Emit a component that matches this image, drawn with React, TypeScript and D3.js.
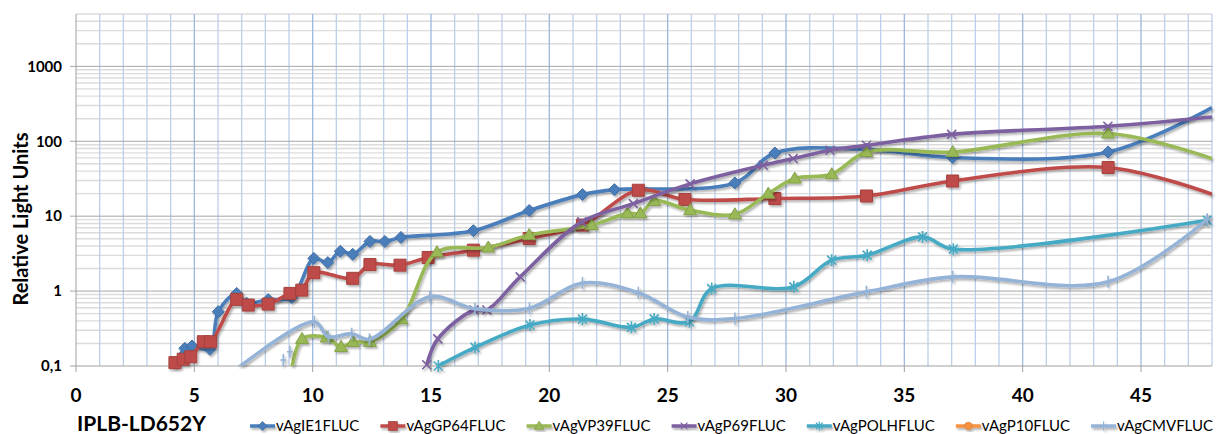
import React, { useEffect, useRef } from "react";
import * as d3 from "d3";

const W = 1216;
const H = 434;

const xTickValues = [0, 5, 10, 15, 20, 25, 30, 35, 40, 45];
const yTickValues = [0.1, 1, 10, 100, 1000];
const yTickLabels = ["0,1", "1", "10", "100", "1000"];
const xAxisTitle = "IPLB-LD652Y";
const yAxisTitle = "Relative Light Units";
const seriesNames = ["vAgIE1FLUC", "vAgGP64FLUC", "vAgVP39FLUC", "vAgP69FLUC", "vAgPOLHFLUC", "vAgP10FLUC", "vAgCMVFLUC"];

const ie1: [number, number][] = [
  [4.2, 0.11], [4.6, 0.172], [4.9, 0.185], [5.66, 0.167], [6.01, 0.53], [6.79, 0.93], [7.21, 0.69],
  [8.12, 0.77], [9.11, 0.82], [10.05, 2.73], [10.64, 2.4], [11.17, 3.4], [11.69, 3.1], [12.42, 4.6],
  [13.05, 4.6], [13.73, 5.2], [16.79, 6.4], [19.15, 11.9], [21.4, 19.4], [22.75, 22.6], [27.84, 27.8],
  [29.53, 69.8], [33.4, 78], [37.04, 60.6], [43.61, 72], [48, 281],
];
const gp64: [number, number][] = [
  [4.18, 0.111], [4.53, 0.123], [4.85, 0.133], [5.38, 0.211], [5.69, 0.211], [6.79, 0.775], [7.28, 0.651],
  [8.12, 0.671], [9.04, 0.932], [9.54, 1.03], [10.05, 1.76], [11.69, 1.48], [12.42, 2.26], [13.69, 2.22],
  [14.88, 2.81], [16.79, 3.52], [19.15, 5.04], [21.4, 7.6], [23.76, 22.2], [25.73, 16.7], [29.53, 17.2],
  [33.4, 18.6], [37.04, 29.5], [43.61, 44.7], [48, 19.6],
];
const vp39: [number, number][] = [
  [9.1, 0.085], [9.55, 0.23], [10.59, 0.24], [11.2, 0.18], [11.7, 0.21], [12.42, 0.21], [13.76, 0.42],
  [15.25, 3.3], [17.42, 3.82], [19.15, 5.6], [21.79, 7.6], [23.3, 10.9], [23.85, 10.9], [24.43, 16],
  [25.95, 12.0], [27.84, 10.6], [29.25, 20.0], [30.37, 31.8], [31.93, 36.3], [33.4, 71.9], [37.04, 71.9],
  [43.61, 127], [48, 58.8],
];
const p69: [number, number][] = [
  [14.82, 0.104], [15.29, 0.23], [16.82, 0.56], [17.36, 0.56], [18.77, 1.55], [21.37, 8.4], [23.55, 14.7],
  [25.95, 27], [29.04, 47.9], [30.3, 58.8], [31.86, 75.9], [33.4, 88.4], [37.0, 123.6], [43.6, 158.5], [48, 211],
];
const polh: [number, number][] = [
  [15.31, 0.1], [16.86, 0.177], [19.18, 0.352], [21.4, 0.423], [23.47, 0.328], [24.43, 0.425], [25.92, 0.39],
  [26.86, 1.08], [30.33, 1.14], [31.93, 2.59], [33.43, 3.02], [35.77, 5.29], [37.07, 3.63], [47.8, 8.83],
];
const p10: [number, number][] = [];
const cmv: [number, number][] = [
  [6.05, 0.06], [10.07, 0.39], [10.66, 0.246], [11.65, 0.27], [12.4, 0.227], [14.95, 0.84], [16.86, 0.58],
  [19.16, 0.59], [21.4, 1.28], [23.76, 0.95], [25.85, 0.45], [27.84, 0.43], [33.4, 0.98], [37.04, 1.55],
  [43.61, 1.33], [47.8, 9.1],
];
const cmvLoose: [number, number][] = [[8.76, 0.12], [9.04, 0.155]];

const seriesData = [ie1, gp64, vp39, p69, polh, p10, cmv];
const lineColors = ["#4A7EBB", "#BE4B48", "#98B954", "#7D60A0", "#46AAC5", "#F69240", "#95B3D7"];
const markerKinds = ["diamond", "square", "triangle", "x", "asterisk", "circle", "plus"];

function markerPath(kind: string): string {
  switch (kind) {
    case "diamond": return "M0,-6L6,0L0,6L-6,0Z";
    case "square": return "M-6,-6h12v12h-12Z";
    case "triangle": return "M0,-6.5L6.5,4.5L-6.5,4.5Z";
    case "x": return "M-4.5,-4.5L4.5,4.5M-4.5,4.5L4.5,-4.5";
    case "asterisk": return "M-4.5,-4.5L4.5,4.5M-4.5,4.5L4.5,-4.5M0,-6L0,6";
    case "plus": return "M0,-6L0,6M-3,0L3,0";
    case "circle": return "M-5,0a5,5 0 1,0 10,0a5,5 0 1,0 -10,0Z";
    default: return "";
  }
}
const filledKinds = new Set(["diamond", "square", "triangle", "circle"]);

export default function App() {
  const ref = useRef<SVGSVGElement>(null);
  useEffect(() => {
    const svg = d3.select(ref.current!);
    svg.selectAll("*").remove();
    const left = 76, right = 1212, top = 14, bottom = 366;
    const x = d3.scaleLinear().domain([0, 48]).range([left, right]);
    const y = d3.scaleLog().domain([0.1, 5000]).range([bottom, top]);
    const font = "Lato, 'Open Sans', sans-serif";

    const defs = svg.append("defs");
    defs.append("clipPath").attr("id", "plotclip").append("rect")
      .attr("x", left).attr("y", top).attr("width", right - left).attr("height", bottom - top);
    const f = defs.append("filter").attr("id", "shadow").attr("x", "-10%").attr("y", "-10%").attr("width", "120%").attr("height", "130%");
    f.append("feDropShadow").attr("dx", 1.5).attr("dy", 2).attr("stdDeviation", 1.3)
      .attr("flood-color", "#000").attr("flood-opacity", 0.3);

    // grid
    const minorVals: number[] = [];
    const majorVals: number[] = [];
    [0.1, 1, 10, 100, 1000].forEach((d) => {
      for (let k = 1; k <= 9; k++) {
        const v = +(k * d).toPrecision(3);
        if (v > 5000) break;
        if (k === 1) majorVals.push(v); else minorVals.push(v);
      }
    });
    const g = svg.append("g");
    g.selectAll(".hmin").data(minorVals).join("line")
      .attr("x1", left).attr("x2", right).attr("y1", (d) => y(d)).attr("y2", (d) => y(d))
      .attr("stroke", "#DCDCDC").attr("stroke-width", 1.4);
    g.selectAll(".v").data(d3.range(1, 49)).join("line")
      .attr("x1", (d) => x(d)).attr("x2", (d) => x(d)).attr("y1", top).attr("y2", bottom)
      .attr("stroke", (d) => (d % 5 === 0 ? "#9DB8DC" : "#BCD0EA")).attr("stroke-width", 1.3);
    g.selectAll(".hmaj").data(majorVals.filter((v) => v > 0.1)).join("line")
      .attr("x1", left - 6).attr("x2", right).attr("y1", (d) => y(d)).attr("y2", (d) => y(d))
      .attr("stroke", "#A6A6A6").attr("stroke-width", 1);

    // axes
    g.append("line").attr("x1", left).attr("x2", left).attr("y1", top).attr("y2", bottom).attr("stroke", "#A0A0A0");
    g.append("line").attr("x1", left - 6).attr("x2", right).attr("y1", bottom).attr("y2", bottom).attr("stroke", "#A0A0A0");
    g.selectAll(".xt").data(xTickValues).join("line")
      .attr("x1", (d) => x(d)).attr("x2", (d) => x(d)).attr("y1", bottom).attr("y2", bottom + 6)
      .attr("stroke", "#A0A0A0");

    g.selectAll(".yl").data(yTickValues).join("text")
      .attr("x", 62).attr("y", (d) => y(d)).attr("dy", "0.35em").attr("text-anchor", "end")
      .attr("font-family", font).attr("font-weight", "bold").attr("font-size", 15).attr("fill", "#000")
      .text((_d, i) => yTickLabels[i]);
    g.selectAll(".xl").data(xTickValues).join("text")
      .attr("x", (d) => x(d)).attr("y", 402).attr("text-anchor", "middle")
      .attr("font-family", font).attr("font-weight", "bold").attr("font-size", 19).attr("fill", "#000")
      .text((d) => String(d));
    svg.append("text").attr("transform", "translate(28,219) rotate(-90)").attr("text-anchor", "middle")
      .attr("font-family", font).attr("font-weight", "bold").attr("font-size", 20).text(yAxisTitle);
    svg.append("text").attr("x", 77).attr("y", 431)
      .attr("font-family", font).attr("font-weight", "bold").attr("font-size", 21).text(xAxisTitle);

    // series
    const line = d3.line<[number, number]>().x((d) => x(d[0])).y((d) => y(d[1])).curve(d3.curveCatmullRom.alpha(0.5));
    const drawMarkers = (sel: any, pts: [number, number][], i: number) => {
      const kind = markerKinds[i];
      const c = lineColors[i];
      sel.selectAll(null).data(pts).join("path")
        .attr("transform", (d: [number, number]) => `translate(${x(d[0])},${y(d[1])})`)
        .attr("d", markerPath(kind))
        .attr("fill", filledKinds.has(kind) ? c : "none")
        .attr("stroke", filledKinds.has(kind) ? d3.color(c)!.darker(0.4).toString() : c)
        .attr("stroke-width", filledKinds.has(kind) ? 1 : 1.6);
    };
    seriesData.forEach((pts, i) => {
      if (!pts.length) return;
      const sg = svg.append("g").attr("filter", "url(#shadow)");
      sg.append("path").attr("d", line(pts)!).attr("fill", "none").attr("stroke", lineColors[i])
        .attr("stroke-width", 3.6).attr("stroke-linejoin", "round").attr("clip-path", "url(#plotclip)");
      drawMarkers(sg, pts.filter((p) => p[1] >= 0.098 && p[0] < 47.95), i);
      if (i === 6) drawMarkers(sg, cmvLoose, i);
    });

    // legend
    const lg = svg.append("g");
    const ly = 426;
    const lineLen = 25;
    const texts = seriesNames.map((n) =>
      lg.append("text").attr("font-family", font).attr("font-size", 15).attr("y", ly).attr("dy", "0.35em").text(n)
    );
    const widths = texts.map((t) => (t.node() as SVGTextElement).getComputedTextLength());
    const startX = 250, endX = 1213;
    const total = widths.reduce((a, b) => a + b + lineLen + 1, 0);
    const gap = (endX - startX - total) / (seriesNames.length - 1);
    let cx = startX;
    seriesNames.forEach((_n, i) => {
      const ig = lg.append("g").attr("filter", "url(#shadow)");
      ig.append("line").attr("x1", cx).attr("x2", cx + lineLen).attr("y1", ly).attr("y2", ly)
        .attr("stroke", lineColors[i]).attr("stroke-width", 3.5);
      const kind = markerKinds[i];
      const c = lineColors[i];
      ig.append("path").attr("transform", `translate(${cx + lineLen / 2},${ly}) scale(0.75)`)
        .attr("d", markerPath(kind))
        .attr("fill", filledKinds.has(kind) ? c : "none")
        .attr("stroke", filledKinds.has(kind) ? d3.color(c)!.darker(0.4).toString() : c)
        .attr("stroke-width", filledKinds.has(kind) ? 1 : 1.6);
      texts[i].attr("x", cx + lineLen + 1);
      cx += lineLen + 1 + widths[i] + gap;
    });
  }, []);
  return (
    <div style={{ position: "absolute", left: 0, top: 0 }}>
      <svg ref={ref} width={W} height={H} style={{ display: "block", background: "#fff" }} />
    </div>
  );
}
